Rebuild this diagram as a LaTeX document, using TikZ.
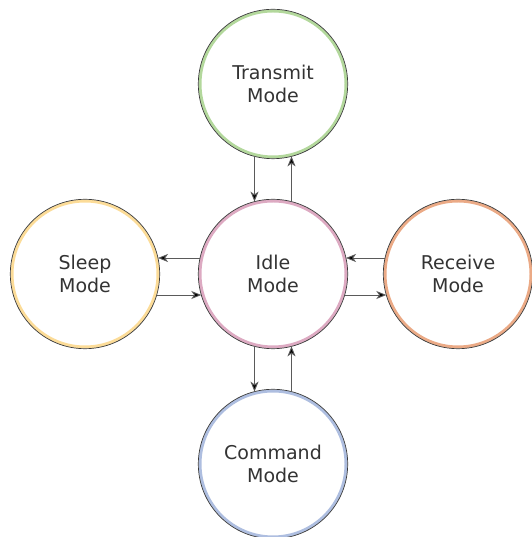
\documentclass[tikz,border=0pt]{standalone}
\usepackage{fontspec}
\setmainfont{DejaVu Sans}
\usetikzlibrary{arrows.meta,calc}
\definecolor{txt}{HTML}{333333}
\definecolor{ringdark}{HTML}{3A3A3A}
\definecolor{cgreen}{HTML}{B3D89C}
\definecolor{cyellow}{HTML}{FCDC98}
\definecolor{corange}{HTML}{EBAA86}
\definecolor{cpink}{HTML}{DDAAC2}
\definecolor{cblue}{HTML}{AEBEE0}
\definecolor{arr}{HTML}{5A5A5A}
\tikzset{
  mode/.style={circle, minimum size=146pt, inner sep=0pt, line width=3pt, fill=white,
    text=txt, align=center, font=\fontsize{19}{23}\selectfont},
  outline/.style={draw=ringdark, line width=0.7pt},
  link/.style={draw=arr, line width=0.9pt, -{Stealth[length=10pt,width=8pt,inset=2.8pt,fill=black]}}
}
\begin{document}
\begin{tikzpicture}[x=1pt,y=1pt]
\useasboundingbox (0,0) rectangle (531,537);
\node[mode, draw=cgreen] (T) at (273,453) {Transmit\\Mode};
\node[mode, draw=cpink] (I) at (273,263) {Idle\\Mode};
\node[mode, draw=cyellow] (S) at (85,263) {Sleep\\Mode};
\node[mode, draw=corange] (R) at (458,263) {Receive\\Mode};
\node[mode, draw=cblue] (C) at (273,73) {Command\\Mode};
\foreach \n in {T,I,S,R,C} { \draw[outline] (\n.center) circle (74.7pt); }
% vertical (x offsets -18.5 / +18.5, border y = 72.7)
\draw[link] ($(T.center)+(-18.5,-72.4)$) -- ($(I.center)+(-18.5,72.4)$);
\draw[link] ($(I.center)+(18.5,72.4)$) -- ($(T.center)+(18.5,-72.4)$);
\draw[link] ($(I.center)+(-18.5,-72.4)$) -- ($(C.center)+(-18.5,72.4)$);
\draw[link] ($(C.center)+(18.5,72.4)$) -- ($(I.center)+(18.5,-72.4)$);
% horizontal (y offsets +16 / -21)
\draw[link] ($(I.center)+(-73.0,16)$) -- ($(S.center)+(73.0,16)$);
\draw[link] ($(S.center)+(71.7,-21)$) -- ($(I.center)+(-71.7,-21)$);
\draw[link] ($(R.center)+(-73.0,16)$) -- ($(I.center)+(73.0,16)$);
\draw[link] ($(I.center)+(71.7,-21)$) -- ($(R.center)+(-71.7,-21)$);
\end{tikzpicture}
\end{document}
